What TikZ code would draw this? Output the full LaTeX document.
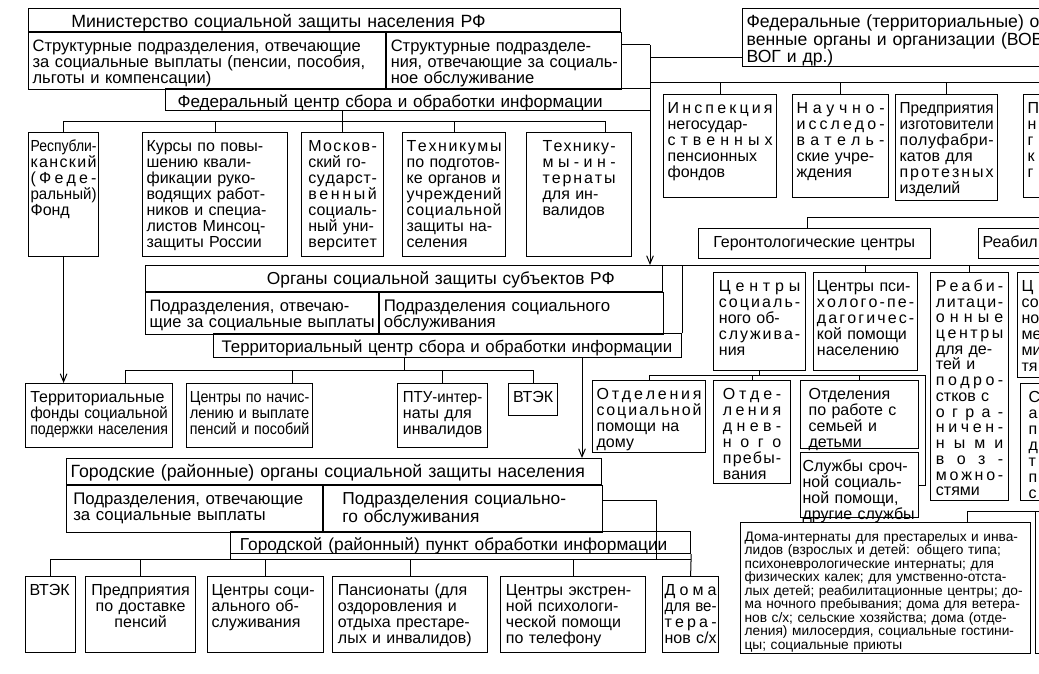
\documentclass[tikz,border=0pt]{standalone}
\usepackage{fontspec}
\setmainfont{Liberation Sans}
\usepackage{graphicx}
\usetikzlibrary{arrows.meta}

\newcommand\celltop{11.5pt}
\makeatletter
\newcommand\fitto[2]{\noindent
  \setbox\z@\hbox{#2}%
  \ifdim\wd\z@>\hsize
    \hbox to\hsize{\resizebox{\hsize}{\height}{\box\z@}}%
  \else
    \hbox to\hsize{#1}%
  \fi\par}
\newcommand\lineL[1]{\fitto{#1\hfil}{#1}}
\newcommand\lineC[1]{\fitto{\hfil#1\hfil}{#1}}
\newcommand\lineJ[1]{\fitto{#1}{#1}}
\newcommand\lineS[1]{\fitto{\spread@a#1\relax}{#1}}
\def\spread@a#1{#1\spread@b}
\def\spread@b#1{\ifx#1\relax\else\hfil#1\expandafter\spread@b\fi}
\makeatother

\begin{document}
\begin{tikzpicture}[x=0.75pt, y=-0.75pt,
  cell/.style={draw, line width=0.9pt, anchor=north west, inner xsep=3pt,
    inner ysep=2.5pt, align=left, text height=\celltop,
    font=\fontsize{12}{12}\selectfont},
  title/.style={font=\fontsize{#1}{12}\selectfont},
  title/.default=13.3,
  wh/.code 2 args={%
    \pgfmathsetlengthmacro\cellw{(#1)*0.75pt}%
    \pgfmathsetlengthmacro\celltw{(#1)*0.75pt-2*\pgfkeysvalueof{/pgf/inner xsep}}%
    \pgfmathsetlengthmacro\celltd{(#2)*0.75pt-\celltop-2*\pgfkeysvalueof{/pgf/inner ysep}}%
    \pgfkeysalso{minimum width=\cellw, text width=\celltw, text depth=\celltd}},
  link/.style={draw, line width=0.75pt},
  arr/.style={link, -{Straight Barb[length=6pt,width=5pt]}}
]
\useasboundingbox (0,0) rectangle (1039,674);

\node[cell, title, wh={592}{23}] (mint) at (28,8)
  {\lineL{\hspace*{29pt}Министерство социальной защиты населения РФ}};
\node[cell, title=12.4, wh={357}{57}] (minl) at (mint.south west)
  {\lineL{Структурные подразделения, отвечающие}
   \lineL{за социальные выплаты (пенсии, пособия,}
   \lineL{льготы и компенсации)}};
\node[cell, title=12.4, wh={235}{57}] (minr) at (minl.north east)
  {\lineJ{Структурные подразделе-}
   \lineJ{ния, отвечающие за социаль-}
   \lineL{ное обслуживание}};
\node[cell, title=12.8, wh={485}{22}] (fedc) at (165,88)
  {\lineL{\hspace*{6pt}Федеральный центр сбора и обработки информации}};
\node[cell, title=13.2, wh={400}{58}] (fedt) at (742,8)
  {\lineL{Федеральные (территориальные) об}
   \lineL{венные органы и организации (ВОВ}
   \lineL{ВОГ и др.)}};

\node[cell, wh={113}{103}] (insp) at (663,94)
  {\lineS{Инспекция}\lineL{негосудар-}\lineS{ственных}
   \lineL{пенсионных}\lineL{фондов}};
\node[cell, wh={96}{103}] (nauch) at (792,94)
  {\lineS{Научно-}\lineS{исследо-}\lineS{ватель-}
   \lineJ{ские учре-}\lineL{ждения}};
\node[cell, wh={102}{106}] (pred) at (895,94)
  {\lineL{Предприятия}\lineL{изготовители}\lineS{полуфабри-}
   \lineJ{катов для}\lineS{протезных}\lineL{изделий}};
\node[cell, wh={100}{103}] (pcut) at (1023,94)
  {\lineL{П}\lineL{н}\lineL{г}\lineL{к}\lineL{г}};

\node[cell, inner xsep=1.5pt, wh={70}{124}] (resp) at (28,132)
  {\lineL{Республи-}\lineS{канский}\lineS{(Феде-}\lineS{ральный)}\lineL{Фонд}};
\node[cell, wh={145}{124}] (kurs) at (142,132)
  {\lineL{Курсы по повы-}\lineJ{шению квали-}\lineJ{фикации руко-}
   \lineJ{водящих работ-}\lineJ{ников и специа-}\lineJ{листов Минсоц-}
   \lineL{защиты России}};
\node[cell, inner xsep=5pt, wh={82}{124}] (mosk) at (301,132)
  {\lineS{Москов-}\lineJ{ский го-}\lineS{сударст-}\lineS{венный}
   \lineS{социаль-}\lineJ{ный уни-}\lineS{верситет}};
\node[cell, wh={103}{124}] (tech) at (402,132)
  {\lineS{Техникумы}\lineJ{по подготов-}\lineJ{ке органов и}
   \lineS{учреждений}\lineS{социальной}\lineJ{защиты на-}\lineL{селения}};
\node[cell, inner xsep=12pt, wh={105}{124}] (tint) at (526,132)
  {\lineS{Технику-}\lineS{мы-ин-}\lineS{тернаты}\lineJ{для ин-}\lineL{валидов}};

\node[cell, title=13, wh={517}{26}] (orgt) at (145,265)
  {\lineL{\hspace*{88pt}Органы социальной защиты субъектов РФ}};
\node[cell, title=12.4, wh={233}{42}] (orgl) at (orgt.south west)
  {\lineJ{Подразделения, отвечаю-}\lineL{щие за социальные выплаты}};
\node[cell, title=12.6, wh={284}{42}] (orgr) at (orgl.north east)
  {\lineL{Подразделения социального}\lineL{обслуживания}};
\node[cell, title=12.6, wh={468}{24}] (terc) at (213,333)
  {\lineL{\hspace*{3pt}Территориальный центр сбора и обработки информации}};

\node[cell, wh={232}{30}] (geron) at (698,228)
  {\lineL{\hspace*{8pt}Геронтологические центры}};
\node[cell, wh={120}{30}] (reab0) at (978,228) {\lineL{Реабил}};
\node[cell, inner xsep=4pt, wh={92}{98}] (cso) at (713,272)
  {\lineS{Центры}\lineS{социаль-}\lineJ{ного об-}\lineS{служива-}\lineL{ния}};
\node[cell, inner xsep=2.5pt, wh={104}{98}] (cpp) at (813,272)
  {\lineL{Центры пси-}\lineS{холого-пе-}\lineS{дагогичес-}
   \lineJ{кой помощи}\lineL{населению}};
\node[cell, inner xsep=4pt, font=\fontsize{12}{11.8}\selectfont, wh={78}{228}] (rcd) at (930,272)
  {\lineS{Реаби-}\lineS{литаци-}\lineS{онные}\lineS{центры}\lineJ{для де-}
   \lineJ{тей и}\lineS{подро-}\lineJ{стков с}\lineS{огра-}\lineS{ничен-}
   \lineS{ными}\lineS{воз-}\lineS{можно-}\lineL{стями}};
\node[cell, wh={100}{105}] (ccut) at (1017,272)
  {\lineL{Ц}\lineL{со}\lineL{но}\lineL{ме}\lineL{ми}\lineL{тя}};
\node[cell, inner xsep=6pt, wh={100}{117}] (scut) at (1020,383)
  {\lineL{С}\lineL{а}\lineL{п}\lineL{д}\lineL{т}\lineL{п}\lineL{с}};

\node[cell, inner xsep=3.5pt, wh={147}{64}] (terf) at (25,383)
  {\lineL{Территориальные}\lineL{фонды социальной}\lineL{подержки населения}};
\node[cell, inner xsep=2.5pt, wh={126}{64}] (cnp) at (186,383)
  {\lineL{Центры по начис-}\lineJ{лению и выплате}\lineL{пенсий и пособий}};
\node[cell, inner xsep=4pt, wh={90}{64}] (ptu) at (397,383)
  {\lineL{ПТУ-интер-}\lineJ{наты для}\lineL{инвалидов}};
\node[cell, wh={49}{32}] (vtek1) at (508,383) {\lineC{ВТЭК}};
\node[cell, wh={113}{72}] (osp) at (592,380)
  {\lineS{Отделения}\lineS{социальной}\lineJ{помощи на}\lineL{дому}};
\node[cell, inner xsep=7pt, wh={77}{103}] (odp) at (713,380)
  {\lineS{Отде-}\lineS{ления}\lineS{днев-}\lineS{ного}\lineS{пребы-}\lineL{вания}};
\node[cell, inner xsep=6pt, wh={118}{68}] (ors) at (800,380)
  {\lineL{Отделения}\lineL{по работе с}\lineJ{семьей и}\lineL{детьми}};
\node[cell, inner xsep=1.5pt, wh={118}{65}] (sls) at (800,452)
  {\lineJ{Службы сроч-}\lineJ{ной социаль-}\lineJ{ной помощи,}\lineJ{другие службы}};

\node[cell, title, wh={535}{26}] (gort) at (66,458)
  {\lineL{Городские (районные) органы социальной защиты населения}};
\node[cell, title=12.6, inner xsep=5pt, wh={256}{47}] (gorl) at (gort.south west)
  {\lineL{Подразделения, отвечающие}\lineL{за социальные выплаты}};
\node[cell, title=13, wh={279}{47}] (gorr) at (gorl.north east)
  {\lineL{\hspace*{11pt}Подразделения социально-}\lineL{\hspace*{11pt}го обслуживания}};
\node[cell, title=13, wh={460}{22}] (punkt) at (230,531)
  {\lineL{\hspace*{4pt}Городской (районный) пункт обработки информации}};

\node[cell, wh={290}{131}, font=\fontsize{10.3}{10.1}\selectfont] (dom) at (740,522)
  {\lineJ{Дома-интернаты для престарелых и инва-}
   \lineJ{лидов (взрослых и детей: общего типа;}
   \lineJ{психоневрологические интернаты; для}
   \lineJ{физических калек; для умственно-отста-}
   \lineJ{лых детей; реабилитационные центры; до-}
   \lineJ{ма ночного пребывания; дома для ветера-}
   \lineJ{нов с/х; сельские хозяйства; дома (отде-}
   \lineJ{ления) милосердия, социальные гостини-}
   \lineL{цы; социальные приюты}};
\node[cell, wh={100}{142}] (far) at (1035,511) {};

\node[cell, wh={50}{76}] (vtek2) at (25,576) {\lineL{ВТЭК}};
\node[cell, wh={110}{76}] (dost) at (85,576)
  {\lineC{Предприятия}\lineC{по доставке}\lineC{пенсий}};
\node[cell, wh={116}{76}] (csob) at (207,576)
  {\lineJ{Центры соци-}\lineJ{ального об-}\lineL{служивания}};
\node[cell, inner xsep=4pt, wh={155}{76}] (pans) at (332,576)
  {\lineL{Пансионаты (для}\lineJ{оздоровления и}\lineJ{отдыха престаре-}\lineL{лых и инвалидов)}};
\node[cell, inner xsep=4pt, wh={145}{76}] (cext) at (500,576)
  {\lineL{Центры экстрен-}\lineL{ной психологи-}\lineL{ческой помощи}\lineL{по телефону}};
\node[cell, inner xsep=1.5pt, wh={56}{76}] (dvet) at (662,576)
  {\lineS{Дома}\lineJ{для ве-}\lineS{тера-}\lineL{нов с/х}};

\coordinate (edge) at (1039,0);
\coordinate (jv) at (650,45);
\coordinate (jf) at (650,58);
\coordinate (jr) at (650,83);
\coordinate (fb) at (0,121);
\coordinate (tb) at ([xshift=20pt]tint.north);
\coordinate (gb) at (807,217);
\coordinate (tc) at (404,370);
\coordinate (cb) at (0,375);
\coordinate (cr) at (925,375);
\coordinate (ta) at (582,0);
\coordinate (gr) at (656,500);
\coordinate (pb) at (0,559);
\coordinate (dj) at (967,511);

\draw[link] (jv -| minr.east) -- (jv);
\draw[arr] (jv) -- (jv |- orgt.north);
\draw[link] (jf) -- (jf -| fedt.west);
\draw[link] (jr) -- (jr -| edge);
\foreach \n in {insp,nauch,pred}
  \draw[link] (\n.north) -- (\n.north |- jr);

\draw[link] (resp.north) |- (tb |- fb) -- (tb);
\foreach \n in {kurs,tech}
  \draw[link] (\n.north) -- (\n.north |- fb);
\draw[link] (fedc.south -| mosk.north) -- (mosk.north);
\draw[arr] (resp.south) -- (resp.south |- terf.north);

\draw[link] (orgt.north east) -- (orgt.north -| edge);
\draw[link] (terc.north east) -- (terc.north east |- orgt.north);
\foreach \n in {cpp,rcd}
  \draw[link] (\n.north) -- (\n.north |- orgt.north);
\draw[link] (geron.north -| gb) -- (gb) -- (gb -| edge);

\draw[link] (tc |- terc.south) -- (tc);
\draw[link] ([xshift=20pt]terf.north) |- (vtek1.north |- tc) -- (vtek1.north);
\draw[link] ([xshift=32pt]cnp.north) |- (tc);
\draw[link] (ptu.north) -- (ptu.north |- tc);

\draw[link] (cso.south) -- (cso.south |- cb);
\draw[link] (osp.north) |- (cr) |- (sls.east);
\foreach \n in {odp,ors}
  \draw[link] (\n.north) -- (\n.north |- cb);

\draw[arr] (terc.south -| ta) -- (gort.north -| ta);
\draw[link] (gr -| gorr.east) -- (gr) -- (gr |- pb);
\draw[link] (vtek2.north) |- (dvet.north |- pb);
\draw[link] (punkt.south east) -- (dvet.north);
\draw[link] (punkt.south west) -- (punkt.south west |- pb);
\foreach \n in {dost,csob,pans,cext}
  \draw[link] (\n.north) -- (\n.north |- pb);

\draw[link] (dom.north -| dj) -- (dj) -- (far.north west);
\end{tikzpicture}
\end{document}
